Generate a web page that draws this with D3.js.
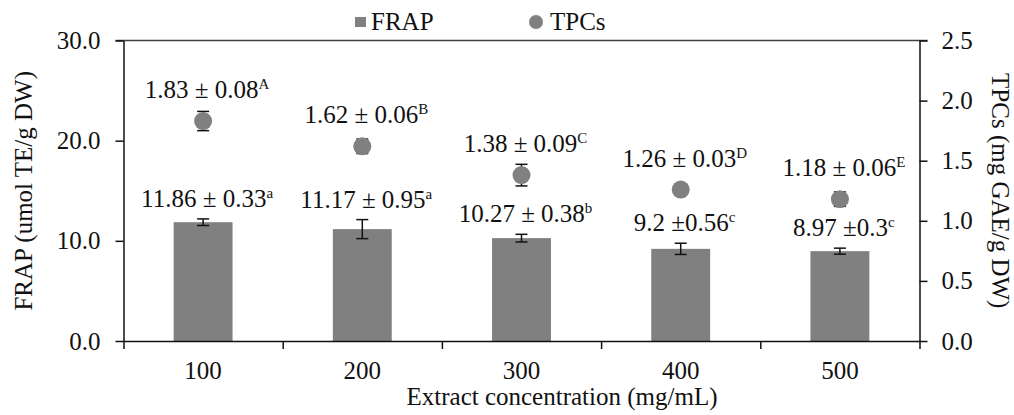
<!DOCTYPE html>
<html>
<head>
<meta charset="utf-8">
<script src="https://cdn.jsdelivr.net/npm/d3@7"></script>
<style>
  body { margin: 0; background: #fff; }
  text { font-family: "Liberation Serif", "Times New Roman", serif; fill: #111; }
</style>
</head>
<body>
<div id="chart"></div>
<script>
// values
var categories  = ["100", "200", "300", "400", "500"];
var frap        = [11.86, 11.17, 10.27, 9.2, 8.97];
var frapErr     = [0.33, 0.95, 0.38, 0.56, 0.3];
var frapLabels  = ["11.86 \u00b1 0.33", "11.17 \u00b1 0.95", "10.27 \u00b1 0.38", "9.2 \u00b10.56", "8.97 \u00b10.3"];
var frapLetters = ["a", "a", "b", "c", "c"];
var tpcs        = [1.83, 1.62, 1.38, 1.26, 1.18];
var tpcsErr     = [0.08, 0.06, 0.09, 0.03, 0.06];
var tpcsLabels  = ["1.83 \u00b1 0.08", "1.62 \u00b1 0.06", "1.38 \u00b1 0.09", "1.26 \u00b1 0.03", "1.18 \u00b1 0.06"];
var tpcsLetters = ["A", "B", "C", "D", "E"];
var leftTicks   = [0, 10, 20, 30];
var rightTicks  = [0, 0.5, 1.0, 1.5, 2.0, 2.5];

var W = 1014, H = 415;
var plotL = 123.5, plotR = 919.5, plotT = 40.5, plotB = 341;
var grey = "#808080";
var fs = 25;

var svg = d3.select('#chart').append('svg')
  .attr('width', W)
  .attr('height', H);

var x = d3.scaleBand().domain(categories).range([plotL, plotR]).padding(0);
var xEdge = d3.scaleLinear().domain([0, categories.length]).range([plotL, plotR]);
var yL = d3.scaleLinear().domain([0, 30]).range([plotB, plotT]);
var yR = d3.scaleLinear().domain([0, 2.5]).range([plotB, plotT]);
var barW = x.bandwidth() * 0.37;
var cx = function (i) { return x(categories[i]) + x.bandwidth() / 2; };
var idx = d3.range(categories.length);

// top line at 30.0
svg.append('line')
  .attr('x1', plotL - 8).attr('x2', plotR + 8)
  .attr('y1', yL(30)).attr('y2', yL(30))
  .attr('stroke', '#404040').attr('stroke-width', 1.3);

// bars
svg.selectAll('rect.bar').data(idx)
  .enter().append('rect')
  .attr('class', 'bar')
  .attr('x', function (i) { return cx(i) - barW / 2; })
  .attr('width', barW)
  .attr('y', function (i) { return yL(frap[i]); })
  .attr('height', function (i) { return plotB - yL(frap[i]); })
  .attr('fill', grey);

// error bars helper
function errBars(cls, vals, errs, scale) {
  var g = svg.append('g').attr('class', cls)
    .attr('stroke', '#111').attr('stroke-width', 1.5).attr('fill', 'none');
  idx.forEach(function (i) {
    var c = cx(i), hi = scale(vals[i] + errs[i]), lo = scale(vals[i] - errs[i]);
    g.append('line').attr('x1', c).attr('x2', c).attr('y1', hi).attr('y2', lo);
    g.append('line').attr('x1', c - 6).attr('x2', c + 6).attr('y1', hi).attr('y2', hi);
    g.append('line').attr('x1', c - 6).attr('x2', c + 6).attr('y1', lo).attr('y2', lo);
  });
}
errBars('frap-err', frap, frapErr, yL);
errBars('tpcs-err', tpcs, tpcsErr, yR);

// dots
svg.selectAll('circle.dot').data(idx)
  .enter().append('circle')
  .attr('class', 'dot')
  .attr('cx', function (i) { return cx(i); })
  .attr('cy', function (i) { return yR(tpcs[i]); })
  .attr('r', 9)
  .attr('fill', grey);

// value labels with superscript letters
function valueLabel(px, py, txt, sup) {
  var t = svg.append('text')
    .attr('x', px).attr('y', py)
    .attr('text-anchor', 'middle')
    .attr('font-size', fs);
  t.append('tspan').text(txt);
  t.append('tspan').attr('font-size', 15).attr('dy', -9).text(sup);
}
idx.forEach(function (i) {
  valueLabel(cx(i) + 4, yL(frap[i] + frapErr[i]) - 12, frapLabels[i], frapLetters[i]);
  valueLabel(cx(i) + 4, yR(tpcs[i]) - 23, tpcsLabels[i], tpcsLetters[i]);
});

// axes
var axL = svg.append('g')
  .attr('transform', 'translate(' + plotL + ',0)')
  .call(d3.axisLeft(yL).tickValues(leftTicks).tickFormat(d3.format('.1f'))
    .tickSize(8).tickSizeOuter(0).tickPadding(15));
var axR = svg.append('g')
  .attr('transform', 'translate(' + plotR + ',0)')
  .call(d3.axisRight(yR).tickValues(rightTicks).tickFormat(d3.format('.1f'))
    .tickSize(8).tickSizeOuter(0).tickPadding(14));
var axB = svg.append('g')
  .attr('transform', 'translate(0,' + plotB + ')')
  .call(d3.axisBottom(xEdge).tickValues(d3.range(categories.length + 1)).tickFormat('')
    .tickSize(8).tickSizeOuter(0));
var axBL = svg.append('g')
  .attr('transform', 'translate(0,' + plotB + ')')
  .call(d3.axisBottom(x).tickSize(0).tickPadding(20));
axBL.select('.domain').remove();

[axL, axR, axB, axBL].forEach(function (a) {
  a.selectAll('text').attr('font-size', fs).attr('font-family', '"Liberation Serif", serif').attr('fill', '#111');
  a.selectAll('line, path').attr('stroke', '#111').attr('stroke-width', 1.5);
});

// axis titles
svg.append('text')
  .attr('transform', 'translate(23,' + ((plotT + plotB) / 2) + ') rotate(-90)')
  .attr('text-anchor', 'middle').attr('dominant-baseline', 'central')
  .attr('font-size', fs)
  .text('FRAP (umol TE/g DW)');
svg.append('text')
  .attr('transform', 'translate(1000,' + ((plotT + plotB) / 2) + ') rotate(90)')
  .attr('text-anchor', 'middle').attr('dominant-baseline', 'central')
  .attr('font-size', fs)
  .text('TPCs (mg GAE/g DW)');
svg.append('text')
  .attr('x', 562).attr('y', 405)
  .attr('text-anchor', 'middle')
  .attr('font-size', fs)
  .text('Extract concentration (mg/mL)');

// legend
svg.append('rect')
  .attr('x', 355).attr('y', 17).attr('width', 11).attr('height', 10)
  .attr('fill', grey);
svg.append('text').attr('x', 371).attr('y', 30).attr('font-size', fs).text('FRAP');
svg.append('circle')
  .attr('cx', 536).attr('cy', 22).attr('r', 7)
  .attr('fill', grey);
svg.append('text').attr('x', 550).attr('y', 30).attr('font-size', fs).text('TPCs');
</script>
</body>
</html>
